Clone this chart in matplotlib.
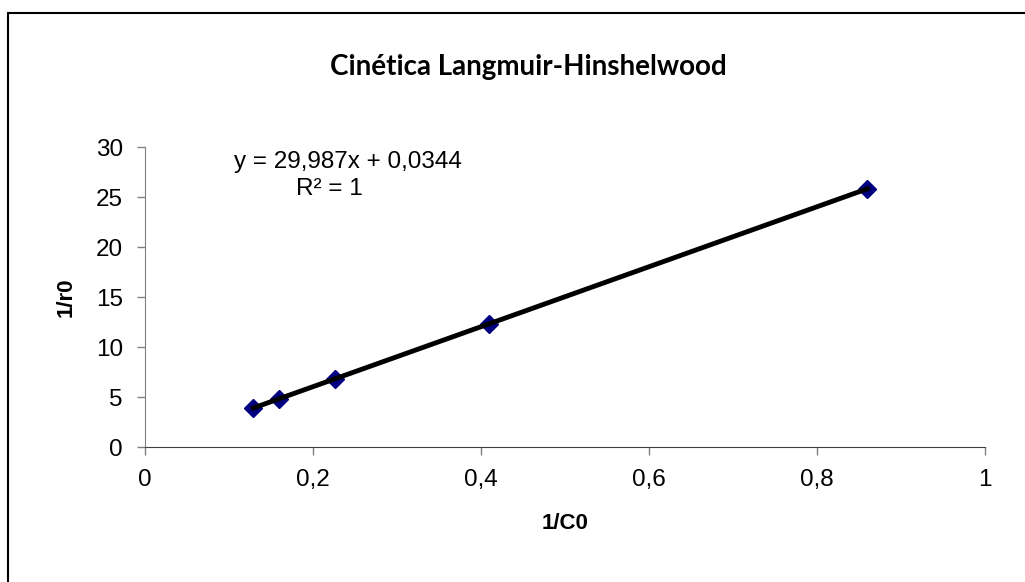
import numpy as np
import matplotlib.pyplot as plt
from matplotlib.patches import Rectangle

# data
inv_c0 = [0.129, 0.160, 0.226, 0.410, 0.860]
inv_r0 = [3.90, 4.83, 6.81, 12.33, 25.82]

# trendline reported on the chart
slope = 29.987
intercept = 0.0344

x_ticks = [0, 0.2, 0.4, 0.6, 0.8, 1]
x_tick_labels = ["0", "0,2", "0,4", "0,6", "0,8", "1"]
y_ticks = [0, 5, 10, 15, 20, 25, 30]

fig = plt.figure(figsize=(10.25, 5.82), dpi=100)
fig.patch.set_facecolor("white")

# outer chart border
fig.add_artist(Rectangle((8 / 1025, -0.1), 1.2, (1 - 13 / 582) + 0.1,
                         transform=fig.transFigure, fill=False,
                         edgecolor="black", linewidth=1.5))

ax = fig.add_axes([145 / 1025, 1 - 447 / 582, 840 / 1025, 300 / 582])

# data points, then the trendline over them
ax.plot(inv_c0, inv_r0, linestyle="none", marker="D", markersize=9,
        color="#000080", zorder=3)
xs = np.array([min(inv_c0), max(inv_c0)])
ax.plot(xs, slope * xs + intercept, color="black", linewidth=3.5, zorder=4)

ax.set_xlim(0, 1)
ax.set_ylim(0, 30)
ax.set_xticks(x_ticks)
ax.set_xticklabels(x_tick_labels)
ax.set_yticks(y_ticks)

for side in ["top", "right"]:
    ax.spines[side].set_visible(False)
ax.spines["left"].set_color("#808080")
ax.spines["bottom"].set_color("#404040")
ax.tick_params(axis="both", direction="out", length=6, width=1,
               colors="#808080", labelcolor="black", labelsize=17.5, pad=10)
for lab in ax.get_xticklabels() + ax.get_yticklabels():
    lab.set_fontfamily("Liberation Sans")

ax.set_xlabel("1/C0", fontfamily="Liberation Sans", fontweight="bold",
              fontsize=16, labelpad=16)
ax.set_ylabel("1/r0", fontfamily="Liberation Sans", fontweight="bold",
              fontsize=16, labelpad=14)

fig.text(528 / 1025, 1 - 67 / 582, "Cinética Langmuir-Hinshelwood",
         fontfamily="Lato", fontweight="bold", fontsize=20,
         ha="center", va="center")

ax.text(0.242, 28.5, "y = 29,987x + 0,0344", fontfamily="Liberation Sans",
        fontsize=17.5, ha="center", va="center")
ax.text(0.22, 25.8, "R² = 1", fontfamily="Liberation Sans",
        fontsize=17.5, ha="center", va="center")

fig.savefig("out.png", dpi=100)
